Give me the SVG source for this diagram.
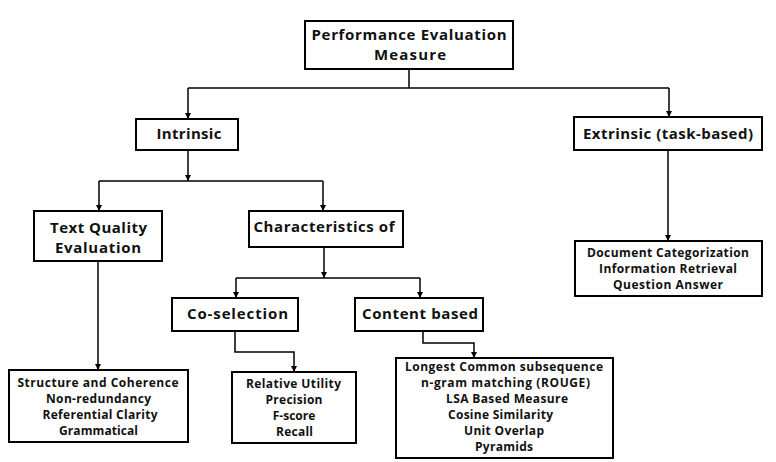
<svg xmlns="http://www.w3.org/2000/svg" width="776" height="462" viewBox="0 0 776 462">
<style>
.box{fill:#fff;stroke:#000;stroke-width:2}
.t{font-family:"Open Sans","Liberation Sans",sans-serif;font-weight:bold;fill:#111;text-anchor:middle}
.big{font-size:15px}
.sm{font-size:12px}
.c{fill:none;stroke:#000;stroke-width:1.5}
</style>
<defs>
<marker id="ah" markerUnits="userSpaceOnUse" markerWidth="7" markerHeight="7" refX="6" refY="3" orient="auto">
<path d="M0,0 L6,3 L0,6 Z" fill="#000"/>
</marker>
</defs>
<rect width="776" height="462" fill="#fff"/>
<g id="connectors">
<path class="c" d="M409,69 V88"/>
<path class="c" d="M188,88 H669"/>
<path class="c" d="M188,88 V119" marker-end="url(#ah)"/>
<path class="c" d="M669,88 V117" marker-end="url(#ah)"/>
<path class="c" d="M188,150 V181" marker-end="url(#ah)"/>
<path class="c" d="M99,181 H323"/>
<path class="c" d="M99,181 V211" marker-end="url(#ah)"/>
<path class="c" d="M323,181 V211" marker-end="url(#ah)"/>
<path class="c" d="M668,150 V241" marker-end="url(#ah)"/>
<path class="c" d="M98,261 V370" marker-end="url(#ah)"/>
<path class="c" d="M324,247 V278" marker-end="url(#ah)"/>
<path class="c" d="M236,278 H420"/>
<path class="c" d="M236,278 V298" marker-end="url(#ah)"/>
<path class="c" d="M420,278 V298" marker-end="url(#ah)"/>
<path class="c" d="M235,331 V352 H294 V372" marker-end="url(#ah)"/>
<path class="c" d="M423,331 V343 H474 V358" marker-end="url(#ah)"/>
</g>
<g id="root">
<rect class="box" x="305" y="21" width="208" height="48"/>
<text class="t big" x="409" y="40" textLength="195" lengthAdjust="spacing">Performance Evaluation</text>
<text class="t big" x="410" y="60" textLength="72" lengthAdjust="spacing">Measure</text>
</g>
<g id="intrinsic">
<rect class="box" x="136" y="119" width="102" height="31"/>
<text class="t big" x="189" y="139" textLength="65" lengthAdjust="spacing">Intrinsic</text>
</g>
<g id="extrinsic">
<rect class="box" x="574" y="117" width="188" height="33"/>
<text class="t big" x="668" y="139" textLength="170" lengthAdjust="spacing">Extrinsic (task-based)</text>
</g>
<g id="extrinsic-list">
<rect class="box" x="575" y="241" width="187" height="55"/>
<text class="t sm" x="668" y="257" textLength="162" lengthAdjust="spacing">Document Categorization</text>
<text class="t sm" x="668" y="273" textLength="138" lengthAdjust="spacing">Information Retrieval</text>
<text class="t sm" x="668" y="289" textLength="110" lengthAdjust="spacing">Question Answer</text>
</g>
<g id="text-quality">
<rect class="box" x="34" y="211" width="128" height="50"/>
<text class="t big" x="98.5" y="233" textLength="97" lengthAdjust="spacing">Text Quality</text>
<text class="t big" x="98" y="253" textLength="86" lengthAdjust="spacing">Evaluation</text>
</g>
<g id="characteristics">
<rect class="box" x="249" y="211" width="154" height="36"/>
<text class="t big" x="324" y="232" textLength="141" lengthAdjust="spacing">Characteristics of</text>
</g>
<g id="text-quality-list">
<rect class="box" x="9" y="370" width="179" height="72"/>
<text class="t sm" x="98" y="387" textLength="161" lengthAdjust="spacing">Structure and Coherence</text>
<text class="t sm" x="98.5" y="403" textLength="105" lengthAdjust="spacing">Non-redundancy</text>
<text class="t sm" x="100" y="419" textLength="115" lengthAdjust="spacing">Referential Clarity</text>
<text class="t sm" x="98.5" y="435" textLength="79" lengthAdjust="spacing">Grammatical</text>
</g>
<g id="co-selection">
<rect class="box" x="172" y="298" width="126" height="33"/>
<text class="t big" x="237.5" y="319" textLength="101" lengthAdjust="spacing">Co-selection</text>
</g>
<g id="content-based">
<rect class="box" x="355" y="298" width="128" height="33"/>
<text class="t big" x="420" y="319" textLength="116" lengthAdjust="spacing">Content based</text>
</g>
<g id="co-selection-list">
<rect class="box" x="232" y="372" width="124" height="71"/>
<text class="t sm" x="293.5" y="388" textLength="95" lengthAdjust="spacing">Relative Utility</text>
<text class="t sm" x="294" y="404" textLength="57" lengthAdjust="spacing">Precision</text>
<text class="t sm" x="294" y="420">F-score</text>
<text class="t sm" x="294.5" y="436" textLength="37" lengthAdjust="spacing">Recall</text>
</g>
<g id="content-list">
<rect class="box" x="396" y="358" width="217" height="100"/>
<text class="t sm" x="504" y="371" textLength="198" lengthAdjust="spacing">Longest Common subsequence</text>
<text class="t sm" x="505.5" y="387" textLength="169" lengthAdjust="spacing">n-gram matching (ROUGE)</text>
<text class="t sm" x="507" y="403" textLength="122" lengthAdjust="spacing">LSA Based Measure</text>
<text class="t sm" x="500.5" y="419" textLength="105" lengthAdjust="spacing">Cosine Similarity</text>
<text class="t sm" x="504" y="435" textLength="80" lengthAdjust="spacing">Unit Overlap</text>
<text class="t sm" x="504" y="451" textLength="58" lengthAdjust="spacing">Pyramids</text>
</g>
</svg>
